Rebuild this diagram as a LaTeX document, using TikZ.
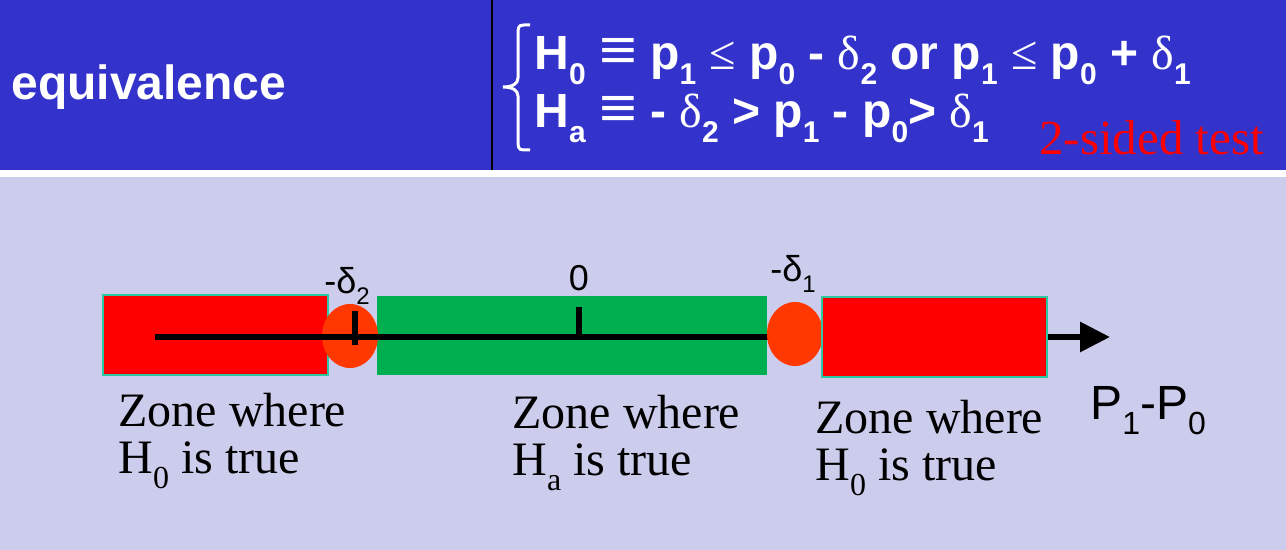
\documentclass[tikz,border=0pt]{standalone}
\usepackage{fontspec}
\setmainfont{Liberation Sans}
\newfontfamily\timesf{Liberation Serif}
\usepackage{xcolor}
\usepackage{graphicx}
\usetikzlibrary{arrows.meta,shapes.geometric}
\definecolor{headbg}{HTML}{3333CC}
\definecolor{panelbg}{HTML}{CCCCEC}
\definecolor{zonered}{HTML}{FF0000}
\definecolor{zonegreen}{HTML}{00AF50}
\definecolor{edge}{HTML}{2EC8A0}
\definecolor{dot}{HTML}{FF3800}
\newcommand{\lo}[2][15]{\raisebox{-0.3em}{\fontsize{#1}{#1}\selectfont #2}}
\newcommand{\dl}{{\timesf\mdseries δ}}
\newcommand{\leqsym}{{\timesf\mdseries ≤}}
\newcommand{\eqv}{\scalebox{1.35}[1.2]{≡}}

\begin{document}
\begin{tikzpicture}[x=0.5pt,y=-0.5pt,
  zonebox/.style={draw=edge,line width=1pt,fill=zonered,minimum width=112.5pt,
                  minimum height=40pt,inner sep=0pt},
  okbox/.style={fill=zonegreen,minimum width=195pt,minimum height=39.5pt,inner sep=0pt},
  bound/.style={ellipse,fill=dot,minimum width=28pt,minimum height=32pt,inner sep=0pt},
  note/.style={font=\timesf\fontsize{24}{23.5}\selectfont,align=left,anchor=north west,inner sep=0pt},
  lbl/.style={font=\fontsize{18}{18}\selectfont,anchor=base,inner sep=0pt},
  head/.style={font=\bfseries\fontsize{24}{24}\selectfont,text=white,anchor=base west,inner sep=0pt},
  axis/.style={line width=3pt,-{Triangle[length=15pt,width=14.5pt]}}
]
\useasboundingbox (0,0) rectangle (1286,550);
\fill[headbg] (0,0) rectangle (1286,170);
\fill[white] (0,170) rectangle (1286,177);
\fill[panelbg] (0,177) rectangle (1286,550);
\draw[black,line width=1pt] (492,0) -- (492,170);

\node[head] (title) at (11,100) {equivalence};
\draw[white,line width=1.5pt] (530,25) -- (524,25) .. controls (518,25) and (518,28) .. (518,35)
  -- (518,78) .. controls (518,84) and (512,87) .. (503,87)
  .. controls (512,87) and (518,90) .. (518,96) -- (518,140)
  .. controls (518,147) and (518,150) .. (524,150) -- (530,150);
\node[head] (hnull) at (534,70) {H\lo{0} \eqv{} p\lo{1} \leqsym{} p\lo{0} - \dl\lo{2} or p\lo{1} \leqsym{} p\lo{0} + \dl\lo{1}};
\node[head] (halt) at (534,128) {H\lo{a} \eqv{} - \dl\lo{2} > p\lo{1} - p\lo{0}> \dl\lo{1}};
\node[font=\timesf\fontsize{24.5}{24.5}\selectfont,text=zonered,anchor=base west,inner sep=0pt]
  (sides) at (1039,155) {2-sided test};

\node[zonebox] (redL) at (215.5,335) {};
\node[okbox] (green) at (572,335.5) {};
\node[bound] (dotL) at (350,336) {};
\coordinate (ax0) at (155,337);
\coordinate (ax1) at (1110,337);
\draw[axis] (ax0) -- (ax1);
\draw[line width=3pt] (355,311) -- (355,345);
\draw[line width=3pt] (579,307) -- (579,340);
\node[bound] (dotR) at (795,334) {};
\node[zonebox] (redR) at (934.5,337) {};

\node[lbl] (dtwo) at (347,294) {-δ\lo[12]{2}};
\node[lbl] (zero) at (579,291) {0};
\node[lbl] (done) at (793,282) {-δ\lo[12]{1}};
\node[font=\fontsize{24}{24}\selectfont,anchor=base west,inner sep=0pt] (diff) at (1090,420) {P\lo[16]{1}-P\lo[16]{0}};

\node[note] (zoneL) at (118,393) {Zone where\\H\lo[16]{0} is true};
\node[note] (zoneM) at (512,395) {Zone where\\H\lo[16]{a} is true};
\node[note] (zoneR) at (815,400) {Zone where\\H\lo[16]{0} is true};
\end{tikzpicture}
\end{document}
